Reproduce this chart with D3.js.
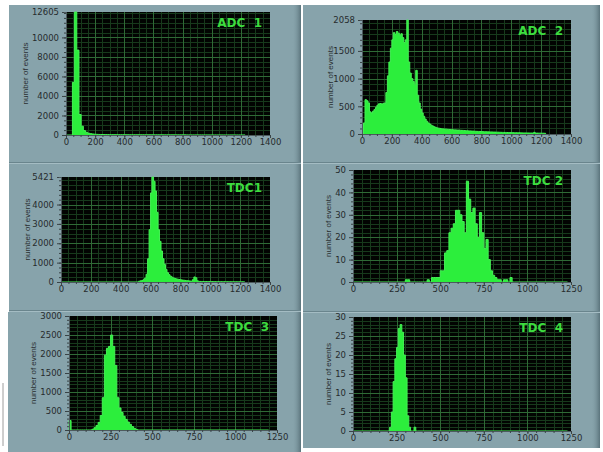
<!DOCTYPE html>
<html>
<head>
<meta charset="utf-8">
<script src="https://cdn.jsdelivr.net/npm/d3@7"></script>
<style>
  html, body { margin: 0; padding: 0; background: #fff; }
  svg { display: block; }
</style>
</head>
<body>
<svg id="chart" width="603" height="452"></svg>
<script>
// histogram counts: first bin start, bin width, counts per bin
const adc1Start = 44, adc1Bin = 15;
const adc1Counts = [5400, 12605, 8700, 2100, 900, 450, 280, 180, 130, 100,
  80, 65, 55, 50, 45, 42, 40, 38, 36, 35, 34, 32, 30, 30, 28, 27, 26, 25, 25, 24,
  23, 22, 22, 21, 20, 20, 19, 19, 18, 18, 17, 17, 16, 16, 15, 15, 15, 14, 14, 13,
  13, 13, 12, 12, 12, 11, 11, 11, 10, 10, 10, 10, 9, 9, 9, 9, 8, 8, 8, 8,
  7, 7, 7, 7, 6, 6, 6, 6, 5];

const adc2Start = 10, adc2Bin = 10;
const adc2Counts = [200, 620, 600, 560, 400, 380, 410, 440, 480, 520,
  545, 550, 540, 555, 560, 750, 1050, 1300, 1550, 1700,
  1830, 1800, 1850, 1820, 1780, 1810, 1740, 1650, 1700, 2058,
  1300, 1100, 1000, 950, 900, 1150, 700, 560, 450, 380,
  320, 270, 230, 200, 180, 160, 145, 130, 120, 110,
  105, 100, 95, 92, 90, 88, 85, 82, 80, 78,
  75, 74, 72, 70, 68, 66, 65, 62, 60, 58,
  56, 55, 53, 52, 50, 48, 47, 46, 45, 44,
  42, 41, 40, 39, 38, 37, 36, 35, 34, 33,
  32, 31, 30, 29, 28, 28, 27, 26, 25, 25,
  24, 23, 23, 22, 22, 21, 20, 20, 19, 19,
  18, 18, 17, 17, 30, 16, 16, 15, 15, 14, 14, 13];

const tdc1Start = 520, tdc1Bin = 10;
const tdc1Counts = [40, 60, 80, 120, 200, 400, 1200, 2700, 4600, 5421,
  5200, 4700, 3600, 2700, 2100, 1600, 1200, 900, 650, 480,
  380, 300, 250, 210, 180, 160, 140, 130, 110, 100,
  90, 80, 70, 60, 50, 40, 120, 260, 220, 60, 30,
  28, 27, 26, 25, 24, 23, 22, 21, 20, 20, 19, 18, 18, 17, 16,
  16, 15, 15, 14, 14, 13, 13, 12, 12, 11, 11, 10, 10, 10, 9];

const tdc2Start = 300, tdc2Bin = 12.5;
const tdc2Counts = [1, 1, 0, 0, 0, 0, 0, 0, 0, 0,
  1, 0, 2, 2, 2, 2, 5, 5, 13, 14,
  22, 24, 26, 32, 32, 30, 27, 22, 45, 37,
  31, 33, 26, 20, 31, 22, 15, 19, 10, 5,
  3, 2, 1, 1, 0, 1, 1, 0, 2, 0];

const tdc3Start = 0, tdc3Bin = 12.5;
const tdc3Counts = [250, 0, 0, 0, 0, 0, 0, 0, 0, 0, 0,
  20, 60, 120, 200, 380, 850, 1970, 2150, 2200, 2500,
  2200, 1700, 850, 580, 460, 360, 280, 210, 150, 90, 45, 15, 0];

const tdc4Start = 210, tdc4Bin = 10;
const tdc4Counts = [1, 5, 13, 19, 22, 27, 28, 26, 20, 14, 4, 1, 0, 0, 1, 0];

// axis tick labels
const adcXTicks = [0, 200, 400, 600, 800, 1000, 1200, 1400];
const tdcXTicks = [0, 250, 500, 750, 1000, 1250];
const adc1YTicks = [0, 2000, 4000, 6000, 8000, 10000, 12605];
const adc2YTicks = [0, 500, 1000, 1500, 2058];
const tdc1YTicks = [0, 1000, 2000, 3000, 4000, 5421];
const tdc2YTicks = [0, 10, 20, 30, 40, 50];
const tdc3YTicks = [0, 500, 1000, 1500, 2000, 2500, 3000];
const tdc4YTicks = [0, 5, 10, 15, 20, 25, 30];
const titles = ['ADC  1', 'ADC  2', 'TDC1', 'TDC 2', 'TDC  3', 'TDC  4'];
const yLabel = 'number of events';

const BG = '#87a3ab';
const BAR = '#2cee3c';
const TITLE = '#3ddc3f';

// plot: [left, top, right, bottom]; box: panel rectangle
const panels = [
  { title: titles[0], counts: adc1Counts, start: adc1Start, bin: adc1Bin, end: 1229,
    xMax: 1400, xTicks: adcXTicks, xMinor: 50, yMax: 12605, yTicks: adc1YTicks, yMinor: 500,
    plot: [66, 12, 270, 135], labelX: 25, box: [9, 5, 301, 162] },
  { title: titles[1], counts: adc2Counts, start: adc2Start, bin: adc2Bin, end: 1230,
    xMax: 1400, xTicks: adcXTicks, xMinor: 50, yMax: 2058, yTicks: adc2YTicks, yMinor: 100,
    plot: [362, 20, 571, 134], labelX: 330, box: [303, 5, 600, 162] },
  { title: titles[2], counts: tdc1Counts, start: tdc1Start, bin: tdc1Bin, end: 1230,
    xMax: 1400, xTicks: adcXTicks, xMinor: 50, yMax: 5421, yTicks: tdc1YTicks, yMinor: 250,
    plot: [61, 177, 270, 282], labelX: 27, box: [9, 164, 301, 310] },
  { title: titles[3], counts: tdc2Counts, start: tdc2Start, bin: tdc2Bin, end: 1230,
    xMax: 1250, xTicks: tdcXTicks, xMinor: 50, yMax: 50, yTicks: tdc2YTicks, yMinor: 2,
    plot: [353, 170, 571, 282], labelX: 328, box: [303, 164, 600, 311] },
  { title: titles[4], counts: tdc3Counts, start: tdc3Start, bin: tdc3Bin, end: 1200,
    xMax: 1250, xTicks: tdcXTicks, xMinor: 50, yMax: 3000, yTicks: tdc3YTicks, yMinor: 100,
    plot: [69, 316, 277, 430], labelX: 33, box: [8, 312, 301, 452] },
  { title: titles[5], counts: tdc4Counts, start: tdc4Start, bin: tdc4Bin, end: 1230,
    xMax: 1250, xTicks: tdcXTicks, xMinor: 50, yMax: 30, yTicks: tdc4YTicks, yMinor: 1,
    plot: [353, 317, 571, 431], labelX: 328, box: [303, 313, 600, 448] }
];

const svg = d3.select('#chart');
const defs = svg.append('defs');
const bevel = defs.append('linearGradient').attr('id', 'bevel');
bevel.append('stop').attr('offset', '0%').attr('stop-color', BG).attr('stop-opacity', 0);
bevel.append('stop').attr('offset', '100%').attr('stop-color', '#5a737b').attr('stop-opacity', 1);

// scan artefact at the far left
svg.append('line').attr('x1', 3).attr('x2', 3).attr('y1', 383).attr('y2', 446)
  .attr('stroke', '#9c9c9c').attr('stroke-width', 1);

panels.forEach((p, k) => {
  const [bx0, by0, bx1, by1] = p.box;
  svg.append('rect').attr('x', bx0).attr('y', by0).attr('width', bx1 - bx0).attr('height', by1 - by0)
    .attr('fill', BG);
  svg.append('rect').attr('x', bx1 - 9).attr('y', by0).attr('width', 9).attr('height', by1 - by0)
    .attr('fill', 'url(#bevel)');
  // divider under the panel
  if (k < 4) {
    svg.append('line').attr('x1', bx0).attr('x2', bx1).attr('y1', by1 + 0.5).attr('y2', by1 + 0.5)
      .attr('stroke', '#6a858d');
    svg.append('line').attr('x1', bx0).attr('x2', bx1).attr('y1', by1 + 1.5).attr('y2', by1 + 1.5)
      .attr('stroke', '#a4bcc3');
  }

  const [left, top, right, bottom] = p.plot;
  const x = d3.scaleLinear().domain([0, p.xMax]).range([left, right]);
  const y = d3.scaleLinear().domain([0, p.yMax]).range([bottom, top]);

  const g = svg.append('g');
  g.append('rect').attr('x', left).attr('y', top).attr('width', right - left).attr('height', bottom - top)
    .attr('fill', '#020402');

  const xMinor = d3.range(0, p.xMax + 1e-9, p.xMinor);
  const yMinor = d3.range(0, p.yMax + 1e-9, p.yMinor);
  const xMajorSet = new Set(p.xTicks);
  const yMajorSet = new Set(p.yTicks);

  g.selectAll('.gxm').data(xMinor.filter(v => !xMajorSet.has(v))).enter().append('line')
    .attr('x1', d => Math.round(x(d)) + 0.5).attr('x2', d => Math.round(x(d)) + 0.5)
    .attr('y1', top).attr('y2', bottom).attr('stroke', '#173a1c');
  g.selectAll('.gym').data(yMinor.filter(v => !yMajorSet.has(v))).enter().append('line')
    .attr('y1', d => Math.round(y(d)) + 0.5).attr('y2', d => Math.round(y(d)) + 0.5)
    .attr('x1', left).attr('x2', right).attr('stroke', '#173a1c');
  g.selectAll('.gx').data(p.xTicks.slice(1, -1)).enter().append('line')
    .attr('x1', d => Math.round(x(d)) + 0.5).attr('x2', d => Math.round(x(d)) + 0.5)
    .attr('y1', top).attr('y2', bottom).attr('stroke', '#2f6a36');
  g.selectAll('.gy').data(p.yTicks.slice(1, -1)).enter().append('line')
    .attr('y1', d => Math.round(y(d)) + 0.5).attr('y2', d => Math.round(y(d)) + 0.5)
    .attr('x1', left).attr('x2', right).attr('stroke', '#2f6a36');

  // histogram as a stepped area
  const pts = [{ x: 0, c: 0 }];
  p.counts.forEach((c, i) => pts.push({ x: p.start + i * p.bin, c }));
  pts.push({ x: p.start + p.counts.length * p.bin, c: 0 });
  if (p.end > pts[pts.length - 1].x) pts.push({ x: p.end, c: 0 });
  const area = d3.area().curve(d3.curveStepAfter)
    .x(d => x(d.x)).y0(y(0)).y1(d => y(d.c));
  const line = d3.line().curve(d3.curveStepAfter).x(d => x(d.x)).y(d => y(d.c));
  g.append('path').datum(pts).attr('d', area).attr('fill', BAR);
  g.append('path').datum(pts).attr('d', line).attr('fill', 'none')
    .attr('stroke', '#45f055').attr('stroke-width', 1);

  // axes
  const fontFam = '"DejaVu Sans", Verdana, sans-serif';
  const yAxis = g.append('g').attr('transform', `translate(${left},0)`)
    .call(d3.axisLeft(y).tickValues(p.yTicks).tickSize(4).tickPadding(3).tickFormat(d3.format('d')));
  const yAxisMinor = g.append('g').attr('transform', `translate(${left},0)`)
    .call(d3.axisLeft(y).tickValues(yMinor).tickSize(2).tickFormat(''));
  const xAxis = g.append('g').attr('transform', `translate(0,${bottom})`)
    .call(d3.axisBottom(x).tickValues(p.xTicks).tickSize(3).tickPadding(1).tickFormat(d3.format('d')));
  const xAxisMinor = g.append('g').attr('transform', `translate(0,${bottom})`)
    .call(d3.axisBottom(x).tickValues(xMinor).tickSize(2).tickFormat(''));
  [yAxis, yAxisMinor, xAxis, xAxisMinor].forEach(a => {
    a.selectAll('path.domain').attr('stroke', '#4d5a5e');
    a.selectAll('line').attr('stroke', '#3a4346');
    a.selectAll('text').attr('fill', '#262b2d').style('font-family', fontFam).style('font-size', '8.5px');
  });

  // axis title
  g.append('text')
    .attr('transform', `translate(${p.labelX},${(top + bottom) / 2}) rotate(-90)`)
    .attr('text-anchor', 'middle').attr('dy', '0.35em')
    .style('font-family', '"Liberation Sans", Arial, sans-serif').style('font-size', '8px')
    .attr('fill', '#2a3032').text(yLabel);

  // channel name inside the plot
  g.append('text')
    .attr('x', right - 8).attr('y', top + 15)
    .attr('text-anchor', 'end')
    .style('font-family', '"DejaVu Sans", Verdana, sans-serif').style('font-size', '12px')
    .style('font-weight', 'bold').style('white-space', 'pre')
    .attr('fill', TITLE).text(p.title);
});
</script>
</body>
</html>
